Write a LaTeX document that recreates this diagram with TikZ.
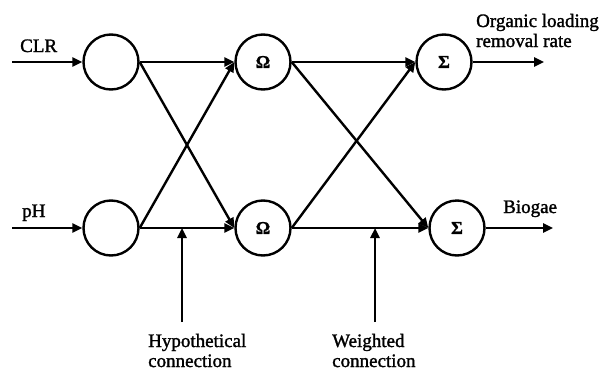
\documentclass[tikz,border=0pt]{standalone}
\usepackage{fontspec}
\setmainfont{Liberation Serif}[FakeBold=1.5]
\usetikzlibrary{arrows.meta}
\begin{document}
\begin{tikzpicture}[x=1pt,y=-1pt,
  neuron/.style={circle,draw,line width=2.4pt,minimum size=55pt,inner sep=0pt,font=\fontsize{18}{20}\selectfont\bfseries},
  conn/.style={line width=2.4pt,-{Triangle[length=10pt,width=9pt]}},
  lbl/.style={anchor=base west,inner sep=0pt,font=\fontsize{19}{21}\selectfont}]
\useasboundingbox (0,0) rectangle (600,370);
\node[neuron] (i1) at (111,62) {};
\node[neuron] (i2) at (111,228) {};
\node[neuron] (h1) at (263,62) {Ω};
\node[neuron] (h2) at (263,228) {Ω};
\node[neuron] (o1) at (444,62) {Σ};
\node[neuron] (o2) at (457,228) {Σ};
\coordinate (in1) at (12,62);
\coordinate (in2) at (12,228);
\coordinate (out1) at (544,62);
\coordinate (out2) at (553,228);
\coordinate (hypS) at (182,322);
\coordinate (hypE) at (182,228);
\coordinate (wS) at (375,322);
\coordinate (wE) at (375,228);
\draw[conn] (in1) -- (i1.west);
\draw[conn] (in2) -- (i2.west);
\draw[conn] (i1.east) -- (h1.west);
\draw[conn] (i1.east) -- (h2.west);
\draw[conn] (i2.east) -- (h1.west);
\draw[conn] (i2.east) -- (h2.west);
\draw[conn] (h1.east) -- (o1.west);
\draw[conn] (h1.east) -- (o2.west);
\draw[conn] (h2.east) -- (o1.west);
\draw[conn] (h2.east) -- (o2.west);
\draw[conn] (o1.east) -- (out1);
\draw[conn] (o2.east) -- (out2);
\draw[conn] (hypS) -- (hypE);
\draw[conn] (wS) -- (wE);
\node[lbl] (tclr) at (20,52) {CLR};
\node[lbl] (tph) at (22,217) {pH};
\node[lbl] (torg1) at (476,27) {Organic loading};
\node[lbl] (torg2) at (476,47) {removal rate};
\node[lbl] (tbio) at (503,213) {Biogae};
\node[lbl] (thyp1) at (148,347) {Hypothetical};
\node[lbl] (thyp2) at (148,367) {connection};
\node[lbl] (tw1) at (332,347) {Weighted};
\node[lbl] (tw2) at (332,367) {connection};
\end{tikzpicture}
\end{document}
